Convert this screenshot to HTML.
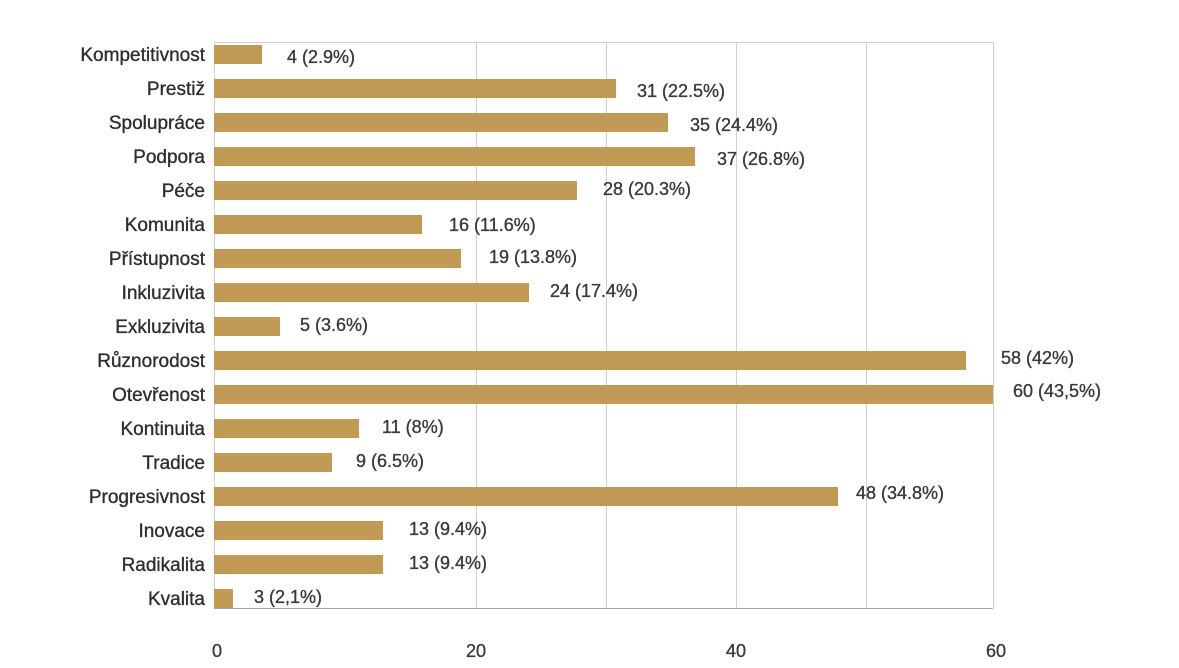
<!DOCTYPE html>
<html><head><meta charset="utf-8"><style>
body{margin:0;background:#fff;}
svg text{font-family:"Liberation Sans",sans-serif;font-size:18px;fill:#3a3a3a;stroke:#3a3a3a;stroke-width:0.35px;}
.c text{font-size:19px;fill:#2e2e2e;stroke:#2e2e2e;}
</style></head><body>
<svg width="1179" height="663" xmlns="http://www.w3.org/2000/svg">
<g stroke="#d0d0d0" stroke-width="1">
<line x1="214.5" y1="42" x2="214.5" y2="608"/>
<line x1="476.5" y1="42" x2="476.5" y2="608"/>
<line x1="606.5" y1="42" x2="606.5" y2="608"/>
<line x1="736.5" y1="42" x2="736.5" y2="608"/>
<line x1="866.5" y1="42" x2="866.5" y2="608"/>
<line x1="993.5" y1="42" x2="993.5" y2="608"/>
<line x1="214" y1="42.5" x2="993" y2="42.5"/>
</g>
<line x1="214" y1="608.5" x2="993" y2="608.5" stroke="#aaa"/>
<g fill="#c19a56">
<rect x="214" y="45" width="48" height="19"/>
<rect x="214" y="79" width="402" height="19"/>
<rect x="214" y="113" width="454" height="19"/>
<rect x="214" y="147" width="481" height="19"/>
<rect x="214" y="181" width="363" height="19"/>
<rect x="214" y="215" width="208" height="19"/>
<rect x="214" y="249" width="247" height="19"/>
<rect x="214" y="283" width="315" height="19"/>
<rect x="214" y="317" width="66" height="19"/>
<rect x="214" y="351" width="752" height="19"/>
<rect x="214" y="385" width="779" height="19"/>
<rect x="214" y="419" width="145" height="19"/>
<rect x="214" y="453" width="118" height="19"/>
<rect x="214" y="487" width="624" height="19"/>
<rect x="214" y="521" width="169" height="19"/>
<rect x="214" y="555" width="169" height="19"/>
<rect x="214" y="589" width="19" height="19"/>
</g>
<g text-anchor="end" class="c">
<text x="205" y="61">Kompetitivnost</text>
<text x="205" y="95">Prestiž</text>
<text x="205" y="129">Spolupráce</text>
<text x="205" y="163">Podpora</text>
<text x="205" y="197">Péče</text>
<text x="205" y="231">Komunita</text>
<text x="205" y="265">Přístupnost</text>
<text x="205" y="299">Inkluzivita</text>
<text x="205" y="333">Exkluzivita</text>
<text x="205" y="367">Různorodost</text>
<text x="205" y="401">Otevřenost</text>
<text x="205" y="435">Kontinuita</text>
<text x="205" y="469">Tradice</text>
<text x="205" y="503">Progresivnost</text>
<text x="205" y="537">Inovace</text>
<text x="205" y="571">Radikalita</text>
<text x="205" y="605">Kvalita</text>
</g>
<g>
<text x="287" y="63">4 (2.9%)</text>
<text x="637" y="97">31 (22.5%)</text>
<text x="690" y="131">35 (24.4%)</text>
<text x="717" y="165">37 (26.8%)</text>
<text x="603" y="195">28 (20.3%)</text>
<text x="449" y="231">16 (11.6%)</text>
<text x="489" y="263">19 (13.8%)</text>
<text x="550" y="297">24 (17.4%)</text>
<text x="300" y="331">5 (3.6%)</text>
<text x="1001" y="364">58 (42%)</text>
<text x="1013" y="397">60 (43,5%)</text>
<text x="382" y="433">11 (8%)</text>
<text x="356" y="467">9 (6.5%)</text>
<text x="856" y="499">48 (34.8%)</text>
<text x="409" y="535">13 (9.4%)</text>
<text x="409" y="569">13 (9.4%)</text>
<text x="254" y="603">3 (2,1%)</text>
</g>
<g text-anchor="middle">
<text x="217" y="657">0</text><text x="476" y="657">20</text><text x="736" y="657">40</text><text x="996" y="657">60</text>
</g>
</svg>
</body></html>
